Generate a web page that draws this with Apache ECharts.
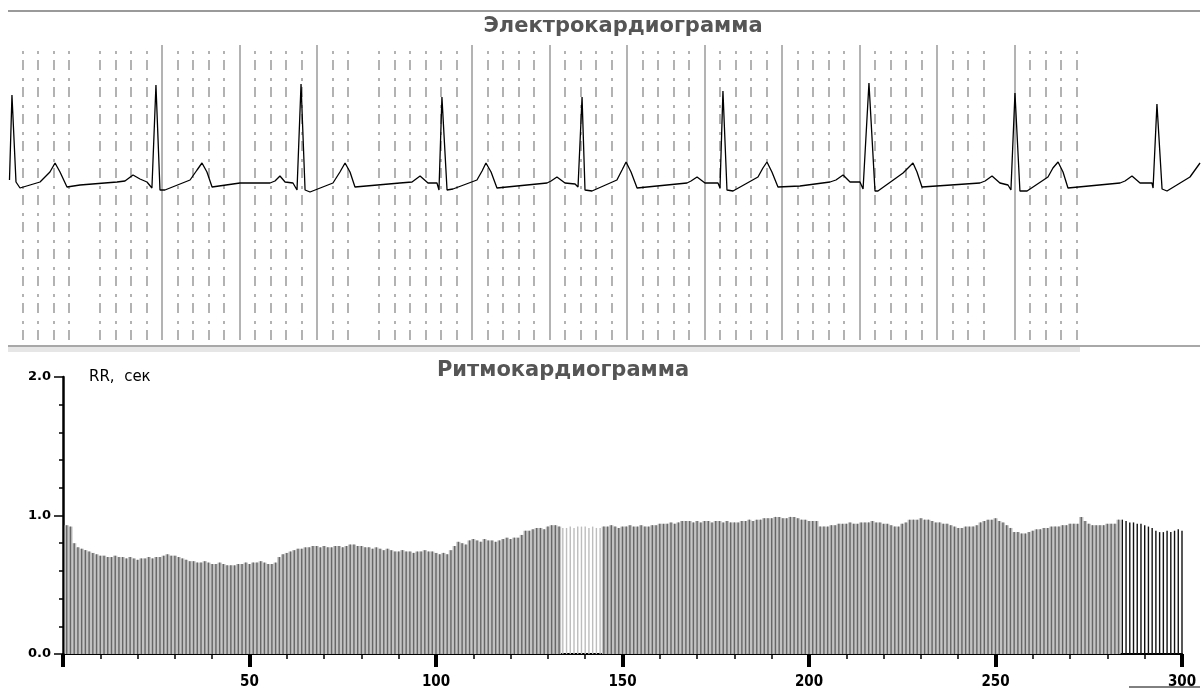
<!DOCTYPE html>
<html>
<head>
<meta charset="utf-8">
<script src="https://cdn.jsdelivr.net/npm/echarts@6/dist/echarts.min.js"></script>
<style>
  html, body { margin: 0; padding: 0; background: #fff; }
  #chart { width: 1204px; height: 690px; }
</style>
</head>
<body>
<div id="chart"></div>
<script>
// ECG trace vertices: [time s, amplitude mV]
const ecgTrace = [
  [0.016, 0.04], [0.032, 0.89], [0.058, 0.02], [0.084, -0.04], [0.213, 0.02], [0.277, 0.12], [0.310, 0.21], [0.342, 0.12], [0.387, -0.03],
  [0.471, -0.01], [0.710, 0.02], [0.761, 0.03], [0.813, 0.09], [0.858, 0.05], [0.903, 0.02], [0.935, -0.04], [0.961, 0.99], [0.987, -0.06],
  [1.019, -0.06], [1.181, 0.04], [1.226, 0.14], [1.258, 0.21], [1.290, 0.12], [1.323, -0.03], [1.503, 0.01], [1.697, 0.01], [1.729, 0.03],
  [1.761, 0.08], [1.794, 0.02], [1.845, 0.01], [1.871, -0.06], [1.897, 1.00], [1.923, -0.06], [1.955, -0.08], [2.103, 0.01], [2.148, 0.12],
  [2.181, 0.21], [2.213, 0.12], [2.245, -0.03], [2.535, 0.01], [2.613, 0.02], [2.665, 0.08], [2.716, 0.01], [2.774, 0.01], [2.787, -0.06],
  [2.806, 0.87], [2.839, -0.06], [2.877, -0.05], [3.032, 0.04], [3.065, 0.13], [3.090, 0.21], [3.123, 0.12], [3.161, -0.04], [3.484, 0.01],
  [3.510, 0.03], [3.548, 0.07], [3.600, 0.01], [3.665, 0.00], [3.684, -0.03], [3.710, 0.87], [3.729, -0.06], [3.774, -0.07], [3.935, 0.04],
  [3.968, 0.14], [3.994, 0.22], [4.026, 0.12], [4.065, -0.04], [4.387, 0.01], [4.413, 0.03], [4.452, 0.07], [4.503, 0.01], [4.587, 0.01],
  [4.600, -0.04], [4.619, 0.93], [4.645, -0.06], [4.684, -0.07], [4.845, 0.07], [4.877, 0.16], [4.903, 0.22], [4.935, 0.12], [4.974, -0.03],
  [5.116, -0.02], [5.310, 0.02], [5.348, 0.04], [5.394, 0.09], [5.439, 0.02], [5.503, 0.02], [5.523, -0.05], [5.561, 1.01], [5.600, -0.07],
  [5.619, -0.07], [5.781, 0.11], [5.845, 0.21], [5.871, 0.12], [5.903, -0.03], [6.277, 0.01], [6.310, 0.03], [6.355, 0.08], [6.406, 0.01],
  [6.458, -0.01], [6.477, -0.06], [6.503, 0.91], [6.535, -0.07], [6.581, -0.07], [6.716, 0.07], [6.748, 0.16], [6.781, 0.22], [6.813, 0.12],
  [6.845, -0.04], [7.181, 0.01], [7.213, 0.03], [7.258, 0.08], [7.310, 0.01], [7.387, 0.01], [7.394, -0.04], [7.419, 0.80], [7.452, -0.05],
  [7.484, -0.07], [7.632, 0.07], [7.697, 0.21]
];

// ECG paper grid lines (seconds)
const ecgDashedLines = [
  0.1, 0.2, 0.3, 0.4, 0.6, 0.7, 0.8, 0.9,
  1.1, 1.2, 1.3, 1.4, 1.6, 1.7, 1.8, 1.9,
  2.1, 2.2, 2.4, 2.5, 2.6, 2.7, 2.8, 2.9,
  3.1, 3.2, 3.3, 3.4, 3.6, 3.7, 3.8, 3.9,
  4.1, 4.2, 4.3, 4.4, 4.6, 4.7, 4.8, 4.9,
  5.1, 5.2, 5.3, 5.4, 5.6, 5.7, 5.8, 5.9,
  6.1, 6.2, 6.3, 6.6, 6.7, 6.8, 6.9
];
const ecgSolidLines = [1, 1.5, 2, 3, 3.5, 4, 4.5, 5, 5.5, 6, 6.5];

// RR intervals, s (beats 1..300)
const rrValues = [
  0.93, 0.92, 0.80, 0.77, 0.76, 0.75, 0.74, 0.73, 0.72, 0.71, 0.71, 0.70, 0.70, 0.71, 0.70, 0.70, 0.69, 0.70, 0.69, 0.68,
  0.69, 0.69, 0.70, 0.69, 0.70, 0.70, 0.71, 0.72, 0.71, 0.71, 0.70, 0.69, 0.68, 0.67, 0.67, 0.66, 0.66, 0.67, 0.66, 0.65,
  0.65, 0.66, 0.65, 0.64, 0.64, 0.64, 0.65, 0.65, 0.66, 0.65, 0.66, 0.66, 0.67, 0.66, 0.65, 0.65, 0.66, 0.70, 0.72, 0.73,
  0.74, 0.75, 0.76, 0.76, 0.77, 0.77, 0.78, 0.78, 0.77, 0.78, 0.77, 0.77, 0.78, 0.78, 0.77, 0.78, 0.79, 0.79, 0.78, 0.78,
  0.77, 0.77, 0.76, 0.77, 0.76, 0.75, 0.76, 0.75, 0.74, 0.74, 0.75, 0.74, 0.74, 0.73, 0.74, 0.74, 0.75, 0.74, 0.74, 0.73,
  0.72, 0.73, 0.72, 0.75, 0.78, 0.81, 0.80, 0.79, 0.82, 0.83, 0.82, 0.81, 0.83, 0.82, 0.82, 0.81, 0.82, 0.83, 0.84, 0.83,
  0.84, 0.84, 0.86, 0.89, 0.89, 0.90, 0.91, 0.91, 0.90, 0.92, 0.93, 0.93, 0.92, 0.91, 0.91, 0.92, 0.91, 0.92, 0.92, 0.92,
  0.91, 0.92, 0.91, 0.91, 0.92, 0.92, 0.93, 0.92, 0.91, 0.92, 0.92, 0.93, 0.92, 0.92, 0.93, 0.92, 0.92, 0.93, 0.93, 0.94,
  0.94, 0.94, 0.95, 0.94, 0.95, 0.96, 0.96, 0.96, 0.95, 0.96, 0.95, 0.96, 0.96, 0.95, 0.96, 0.96, 0.95, 0.96, 0.95, 0.95,
  0.95, 0.96, 0.96, 0.97, 0.96, 0.97, 0.97, 0.98, 0.98, 0.98, 0.99, 0.99, 0.98, 0.98, 0.99, 0.99, 0.98, 0.97, 0.97, 0.96,
  0.96, 0.96, 0.92, 0.92, 0.92, 0.93, 0.93, 0.94, 0.94, 0.94, 0.95, 0.94, 0.94, 0.95, 0.95, 0.95, 0.96, 0.95, 0.95, 0.94,
  0.94, 0.93, 0.92, 0.92, 0.94, 0.95, 0.97, 0.97, 0.97, 0.98, 0.97, 0.97, 0.96, 0.95, 0.95, 0.94, 0.94, 0.93, 0.92, 0.91,
  0.91, 0.92, 0.92, 0.92, 0.93, 0.95, 0.96, 0.97, 0.97, 0.98, 0.96, 0.95, 0.93, 0.91, 0.88, 0.88, 0.87, 0.87, 0.88, 0.89,
  0.90, 0.90, 0.91, 0.91, 0.92, 0.92, 0.92, 0.93, 0.93, 0.94, 0.94, 0.94, 0.99, 0.96, 0.94, 0.93, 0.93, 0.93, 0.93, 0.94,
  0.94, 0.94, 0.97, 0.97, 0.96, 0.95, 0.95, 0.94, 0.94, 0.93, 0.92, 0.91, 0.89, 0.88, 0.88, 0.89, 0.88, 0.89, 0.90, 0.89
];

const paleFrom = 134, paleTo = 144; // light bars with white gaps
const darkFrom = 284;               // last beats drawn as black lines

let fillData = [], lineData = [];
rrValues.forEach((v, i) => {
  let n = i + 1;
  let pale = n >= paleFrom && n <= paleTo;
  let dark = n >= darkFrom;
  fillData.push({ value: [n, v], itemStyle: (pale || dark) ? { color: "rgba(0,0,0,0)" } : undefined });
  lineData.push({ value: [n, v], itemStyle: pale ? { color: "#bdbdbd" } : dark ? { color: "#111" } : undefined });
});

let gridMarks = [];
ecgDashedLines.forEach(t => {
  gridMarks.push({ xAxis: t, lineStyle: { color: "#ababab", width: 1.8, type: [10, 6, 3, 8] } });
});
ecgSolidLines.forEach(t => {
  gridMarks.push({ xAxis: t, lineStyle: { color: "#ababab", width: 1.8, type: "solid" } });
});

const titleFont = { fontFamily: "DejaVu Sans", fontWeight: "bold", fontSize: 21, fill: "#555" };

let option = {
  animation: false,
  backgroundColor: "#fff",
  grid: [
    { left: 7, right: 3.5, top: 45, bottom: 350 },
    { left: 63, right: 22, top: 377, bottom: 35 }
  ],
  xAxis: [
    { gridIndex: 0, type: "value", min: 0, max: 7.7, show: false },
    {
      gridIndex: 1, type: "value", min: 0, max: 300, interval: 50,
      axisLine: { show: true, lineStyle: { color: "#000", width: 2 } },
      axisTick: { show: true, length: 13, lineStyle: { color: "#000", width: 4 } },
      minorTick: { show: true, splitNumber: 5, length: 5, lineStyle: { color: "#000", width: 1.5 } },
      axisLabel: {
        showMinLabel: false, margin: 21, color: "#000", fontSize: 15, fontWeight: "bold",
        fontFamily: "DejaVu Sans Condensed, DejaVu Sans"
      },
      splitLine: { show: false }
    },
    { gridIndex: 1, type: "value", min: 0, max: 300, show: false }
  ],
  yAxis: [
    { gridIndex: 0, type: "value", min: -1.56, max: 1.39, show: false },
    {
      gridIndex: 1, type: "value", min: 0, max: 2, interval: 1,
      name: "RR,  сек", nameLocation: "end", nameGap: 0,
      nameTextStyle: {
        align: "left", verticalAlign: "middle", padding: [0, 0, 0, 26],
        color: "#000", fontSize: 15, fontFamily: "DejaVu Sans"
      },
      axisLine: { show: true, lineStyle: { color: "#000", width: 2.5 } },
      axisTick: { show: true, length: 9, lineStyle: { color: "#000", width: 1.5 } },
      minorTick: { show: true, splitNumber: 5, length: 4, lineStyle: { color: "#000", width: 1.5 } },
      axisLabel: {
        margin: 12, color: "#000", fontSize: 13, fontWeight: "bold", fontFamily: "DejaVu Sans",
        formatter: v => v.toFixed(1)
      },
      splitLine: { show: false }
    }
  ],
  series: [
    {
      name: "ECG", type: "line", xAxisIndex: 0, yAxisIndex: 0,
      data: ecgTrace, showSymbol: false, symbol: "none", smooth: false, z: 3,
      lineStyle: { color: "#000", width: 1.3 },
      markLine: {
        z: 1, silent: true, symbol: ["none", "none"], label: { show: false },
        emphasis: { disabled: true }, animation: false,
        data: gridMarks
      }
    },
    {
      name: "RR fill", type: "bar", xAxisIndex: 2, yAxisIndex: 1,
      data: fillData, barWidth: 4.2, itemStyle: { color: "#c2c2c2" }, z: 2
    },
    {
      name: "RR", type: "bar", xAxisIndex: 1, yAxisIndex: 1,
      data: lineData, barWidth: 1.4, itemStyle: { color: "#666" }, z: 3
    }
  ],
  graphic: [
    { type: "line", shape: { x1: 8, y1: 11, x2: 1200, y2: 11 }, style: { stroke: "#9a9a9a", lineWidth: 2 }, silent: true },
    { type: "rect", shape: { x: 8, y: 347, width: 1072, height: 5 }, style: { fill: "#e6e6e6" }, silent: true },
    { type: "line", shape: { x1: 8, y1: 346, x2: 1200, y2: 346 }, style: { stroke: "#a8a8a8", lineWidth: 2 }, silent: true },
    { type: "text", x: 623, y: 27, style: Object.assign({ text: "Электрокардиограмма", align: "center", verticalAlign: "middle" }, titleFont), silent: true },
    { type: "text", x: 563, y: 371, style: Object.assign({ text: "Ритмокардиограмма", align: "center", verticalAlign: "middle" }, titleFont), silent: true },
    { type: "line", shape: { x1: 1129, y1: 687, x2: 1200, y2: 687 }, style: { stroke: "#000", lineWidth: 1 }, silent: true }
  ]
};

let myChart = echarts.init(document.getElementById("chart"));
myChart.setOption(option);
</script>
</body>
</html>
